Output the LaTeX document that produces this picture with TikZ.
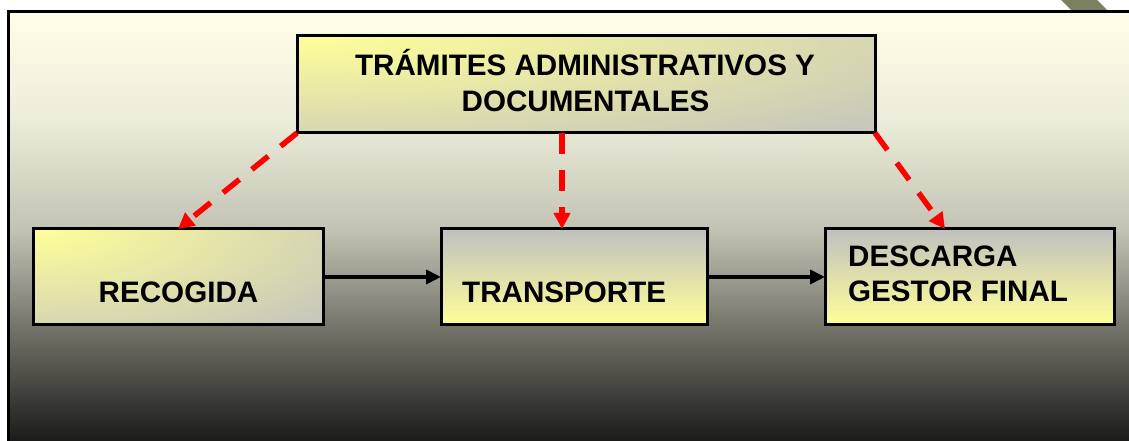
\documentclass[tikz,border=0pt]{standalone}
\usepackage{fontspec}
\setmainfont{Liberation Sans}
\usetikzlibrary{arrows.meta}
\definecolor{byel}{RGB}{255,255,153}
\definecolor{bgray}{RGB}{192,192,192}
\definecolor{olivec}{RGB}{122,128,96}
\definecolor{pcA}{RGB}{22,22,20}
\definecolor{pcB}{RGB}{115,114,104}
\definecolor{pcC}{RGB}{195,195,180}
\definecolor{pcD}{RGB}{236,236,218}
\definecolor{pcE}{RGB}{255,255,232}
\pgfdeclareverticalshading{panelshade}{100bp}{color(0bp)=(pcA); color(25bp)=(pcA); color(38.5bp)=(pcB); color(50bp)=(pcC); color(62.5bp)=(pcD); color(75bp)=(pcE); color(100bp)=(pcE)}
\tikzset{
  boxbase/.style={draw=black, line width=3pt, inner sep=0pt, outer sep=0pt},
  cornerbox/.style n args={4}{boxbase, minimum width=#1, minimum height=#2, fill=bgray,
    path picture={\shade[inner color=byel, outer color=bgray] (path picture bounding box.north west) ellipse[x radius=#3, y radius=#4];}},
  vertbox/.style n args={2}{boxbase, minimum width=#1, minimum height=#2, top color=bgray, bottom color=byel},
  lbl/.style={font=\bfseries\fontsize{29.6}{35}\selectfont, inner sep=0pt, text=black},
  flow/.style={draw=black, line width=4pt, -{Triangle[length=15pt,width=14pt]}},
  dashlink/.style={draw=red, line width=5.5pt, dash pattern=on 21pt off 16pt, -{Triangle[length=16pt,width=16pt]}}
}
\begin{document}
\begin{tikzpicture}[x=1pt,y=1pt]
\useasboundingbox (0,0) rectangle (1129,441);
% olive strip at top right
\fill[olivec] (1061,441) -- (1097,441) -- (1108,430) -- (1072,430) -- cycle;
% panel
\shade[shading=panelshade] (8.5,-6) rectangle (1136,429.5);
\draw[line width=3.5pt] (8.5,-6) -- (8.5,429.5) -- (1136,429.5);
% boxes
\node[cornerbox={578pt}{97pt}{880pt}{150pt}] (top) at (586,356.5) {};
\node[cornerbox={290pt}{96pt}{440pt}{150pt}] (rec) at (178,164) {};
\node[vertbox={266pt}{96pt}] (tra) at (574,164) {};
\node[vertbox={289pt}{96pt}] (des) at (969.5,164) {};
% texts
\node[lbl, anchor=base] (t1) at (585,365.3) {TRÁMITES ADMINISTRATIVOS Y};
\node[lbl, anchor=base] (t2) at (585.5,329.5) {DOCUMENTALES};
\node[lbl, anchor=base] (trec) at (178.5,138.7) {RECOGIDA};
\node[lbl, anchor=base west] (ttra) at (462,138.4) {TRANSPORTE};
\node[lbl, anchor=base west] (tdes1) at (848,174.3) {DESCARGA};
\node[lbl, anchor=base west] (tdes2) at (848,139.3) {GESTOR FINAL};
% flow arrows
\draw[flow] (rec.east) -- (tra.west);
\draw[flow] (tra.east) -- (des.west);
% dashed red arrows
\draw[dashlink] (top.south west) -- (rec.north);
\draw[dashlink] ([xshift=-24pt]top.south) -- ([xshift=-12pt]tra.north);
\draw[dashlink] (top.south east) -- ([xshift=-24.5pt]des.north);
\end{tikzpicture}
\end{document}
